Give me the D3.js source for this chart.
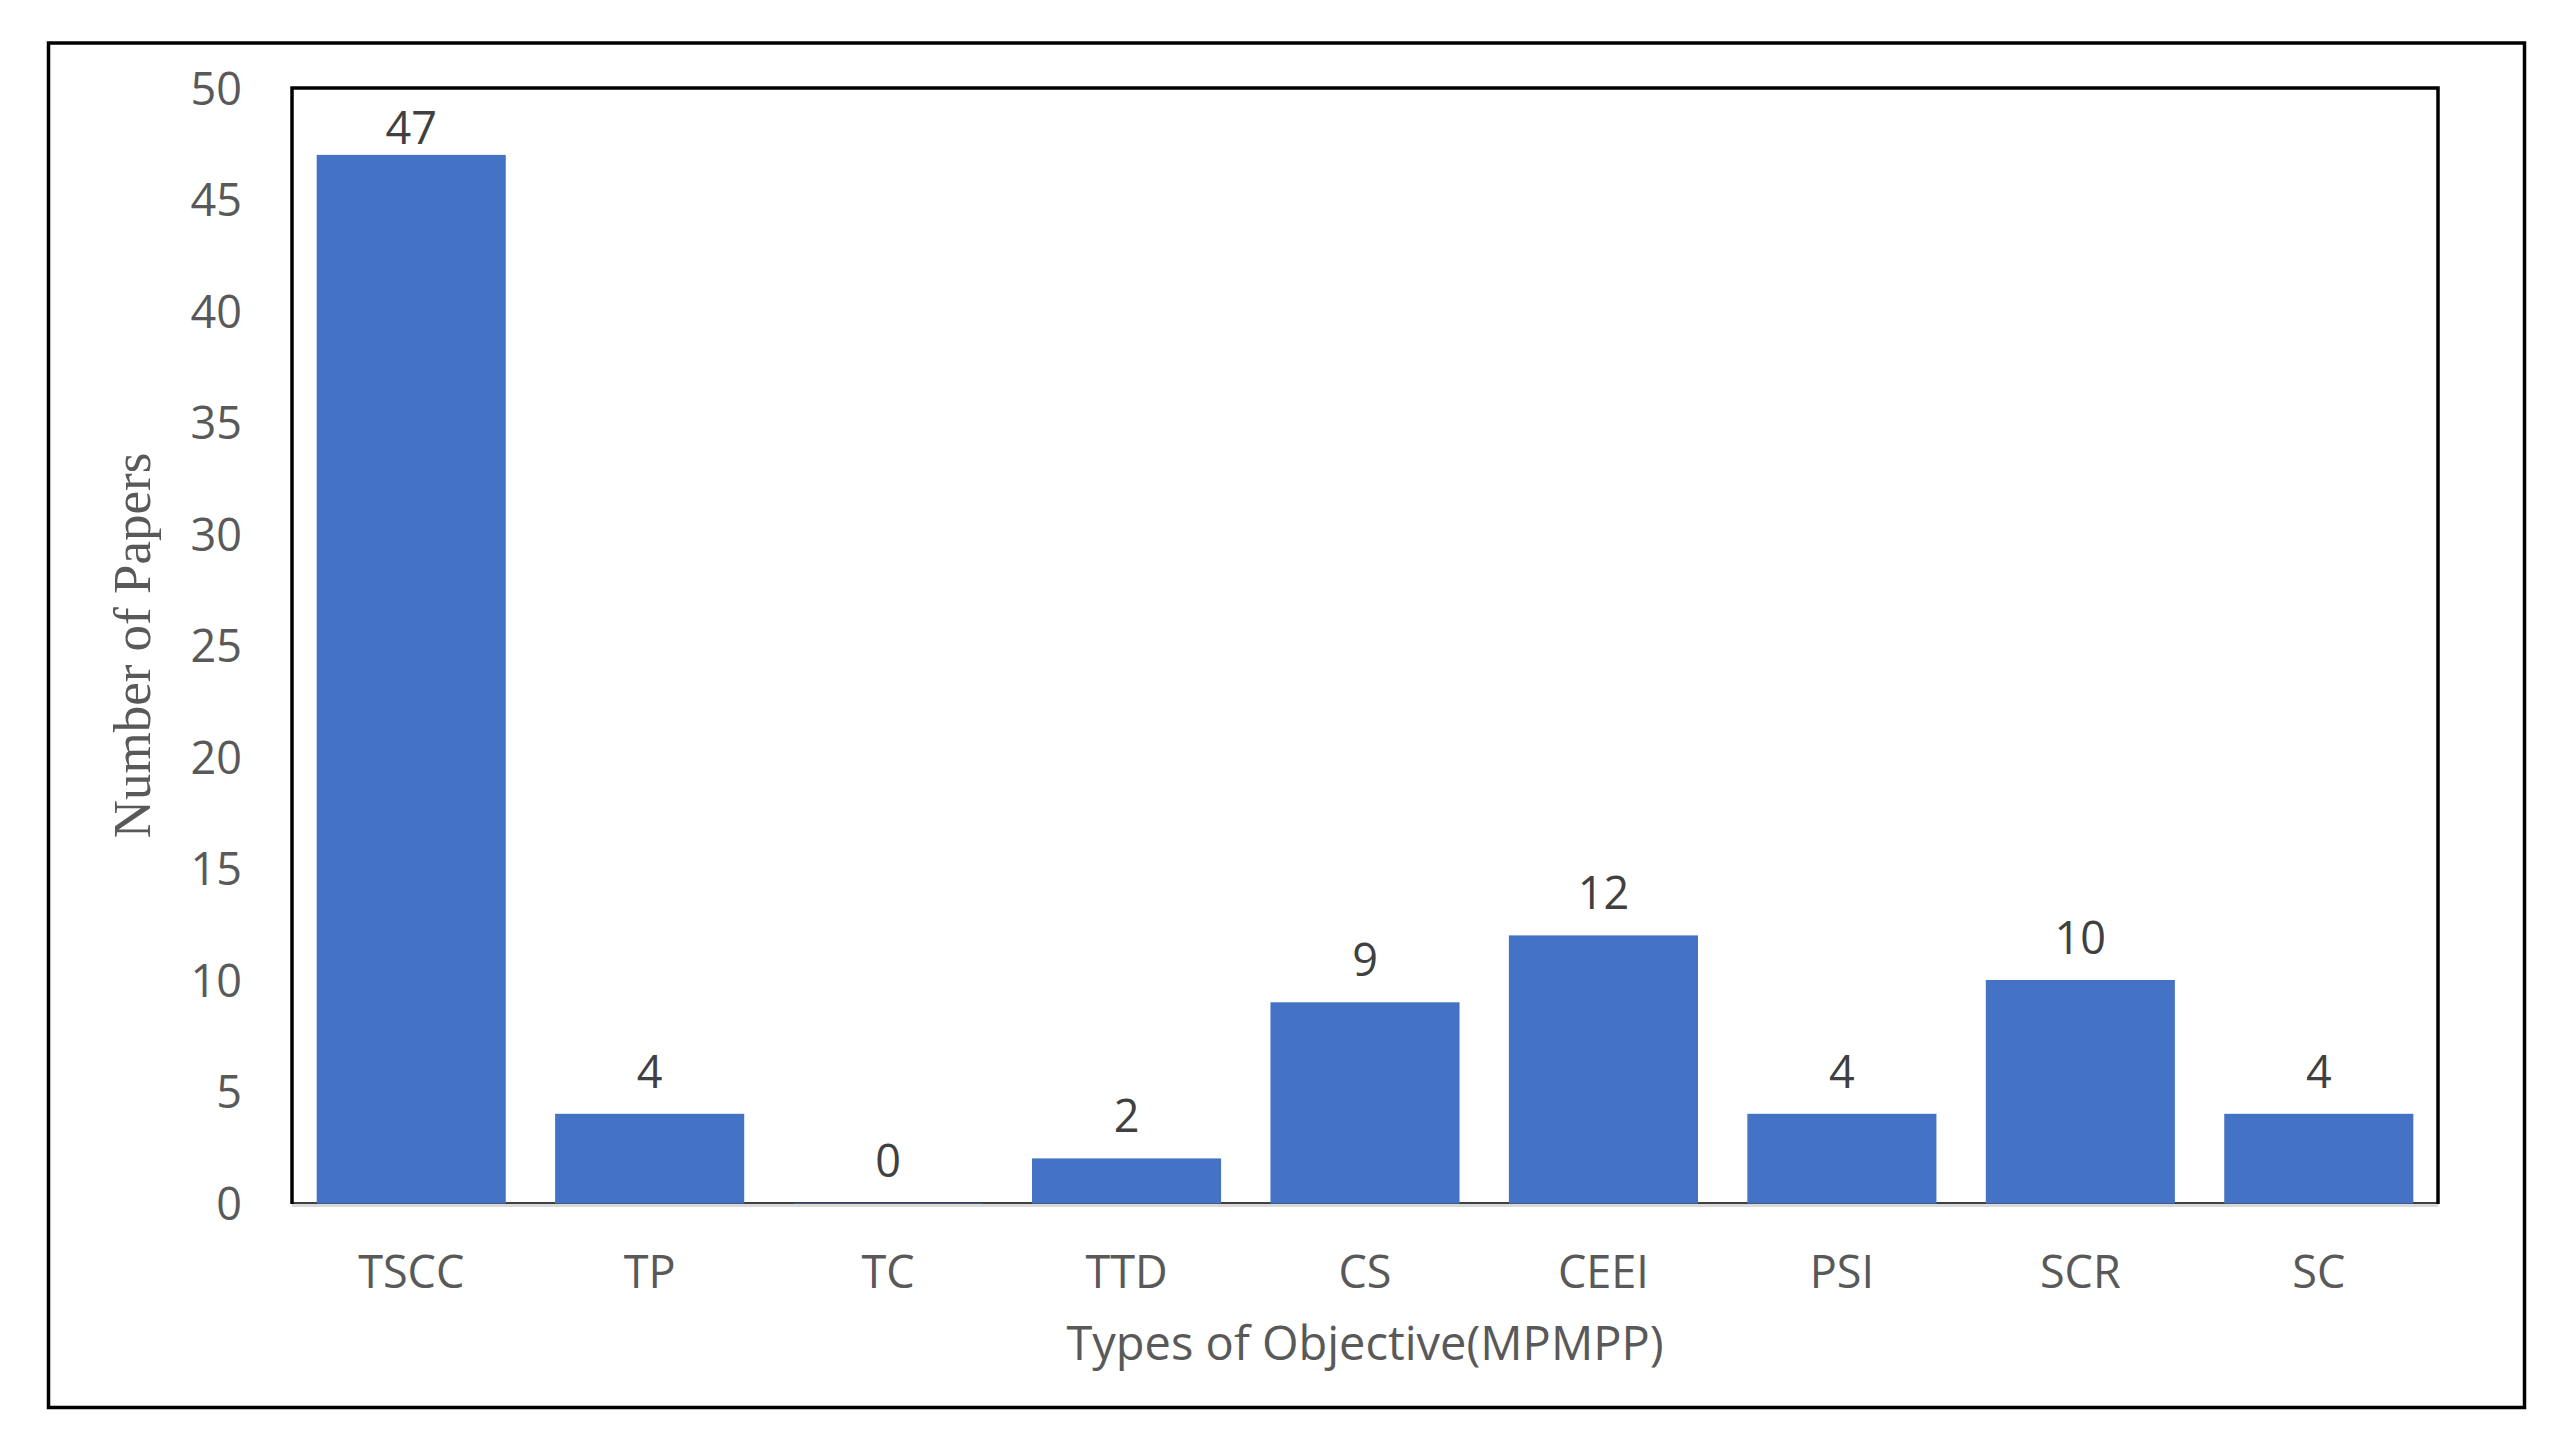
<!DOCTYPE html>
<html>
<head>
<meta charset="utf-8">
<script src="https://cdn.jsdelivr.net/npm/d3@7/dist/d3.min.js"></script>
<style>
  html, body { margin: 0; padding: 0; background: #ffffff; }
  svg { display: block; }
</style>
</head>
<body>
<svg id="chart" width="2559" height="1444"></svg>
<script>
// ---- data ----
const categories = ["TSCC", "TP", "TC", "TTD", "CS", "CEEI", "PSI", "SCR", "SC"];
const values = [47, 4, 0, 2, 9, 12, 4, 10, 4];
const yTicks = [0, 5, 10, 15, 20, 25, 30, 35, 40, 45, 50];
const xTitle = "Types of Objective(MPMPP)";
const yTitle = "Number of Papers";

// ---- layout ----
const W = 2559, H = 1444;
const plot = { left: 292, right: 2438, top: 88, bottom: 1203 };
const svg = d3.select("#chart");

svg.append("rect").attr("x", 0).attr("y", 0).attr("width", W).attr("height", H).attr("fill", "#fff");

// outer border
svg.append("rect")
  .attr("x", 48.5).attr("y", 43).attr("width", 2524.5 - 48.5).attr("height", 1407.5 - 43)
  .attr("fill", "none").attr("stroke", "#000").attr("stroke-width", 3.5);

const x = d3.scaleBand()
  .domain(categories)
  .range([plot.left, plot.right])
  .paddingInner(0.207)
  .paddingOuter(0.1035);

const y = d3.scaleLinear().domain([0, 50]).range([plot.bottom, plot.top]);

// grey horizontal axis line (under black border)
svg.append("line")
  .attr("x1", plot.left).attr("x2", plot.right)
  .attr("y1", y(0) + 2.5).attr("y2", y(0) + 2.5)
  .attr("stroke", "#d9d9d9").attr("stroke-width", 3);

// bottom thin black border line
svg.append("line")
  .attr("x1", plot.left).attr("x2", plot.right)
  .attr("y1", y(0)).attr("y2", y(0))
  .attr("stroke", "#000").attr("stroke-width", 1.5);

// bars
svg.append("g").selectAll("rect")
  .data(categories.map((c, i) => ({ c, v: values[i] })))
  .join("rect")
  .attr("x", d => x(d.c))
  .attr("width", x.bandwidth())
  .attr("y", d => y(d.v))
  .attr("height", d => y(0) - y(d.v) + 0.5)
  .attr("fill", "#4472C4");

// plot border: top, left, right thick
svg.append("path")
  .attr("d", `M${plot.left},${plot.bottom + 1}V${plot.top}H${plot.right}V${plot.bottom + 1}`)
  .attr("fill", "none").attr("stroke", "#000").attr("stroke-width", 3.5);

// data labels
svg.append("g").selectAll("text")
  .data(categories.map((c, i) => ({ c, v: values[i] })))
  .join("text")
  .attr("x", d => x(d.c) + x.bandwidth() / 2)
  .attr("y", d => Math.max(y(d.v) - 26, plot.top + 56))
  .attr("text-anchor", "middle")
  .attr("font-family", "'Open Sans', sans-serif")
  .attr("font-size", 45)
  .attr("fill", "#404040")
  .text(d => d.v);

// y axis
const yAxis = d3.axisLeft(y).tickValues(yTicks).tickSize(0).tickPadding(0);
const gy = svg.append("g").attr("transform", `translate(242,0)`).call(yAxis);
gy.select(".domain").remove();
gy.selectAll("text")
  .attr("font-family", "'Open Sans', sans-serif")
  .attr("font-size", 45)
  .attr("fill", "#595959")
  .attr("dy", "0.36em")
  .attr("text-anchor", "end");

// x axis
const xAxis = d3.axisBottom(x).tickSize(0).tickPadding(0);
const gx = svg.append("g").attr("transform", `translate(0,0)`).call(xAxis);
gx.select(".domain").remove();
gx.selectAll("text")
  .attr("y", 1288)
  .attr("dy", null)
  .attr("font-family", "'Open Sans', sans-serif")
  .attr("font-size", 45)
  .attr("fill", "#595959");

// x title
svg.append("text")
  .attr("x", (plot.left + plot.right) / 2)
  .attr("y", 1360)
  .attr("text-anchor", "middle")
  .attr("font-family", "'Open Sans', sans-serif")
  .attr("font-size", 47)
  .attr("fill", "#595959")
  .text(xTitle);

// y title
svg.append("text")
  .attr("transform", `translate(150,${(plot.top + plot.bottom) / 2}) rotate(-90)`)
  .attr("text-anchor", "middle")
  .attr("font-family", "'Liberation Serif', 'Times New Roman', serif")
  .attr("font-size", 53)
  .attr("fill", "#595959")
  .text(yTitle);
</script>
</body>
</html>
